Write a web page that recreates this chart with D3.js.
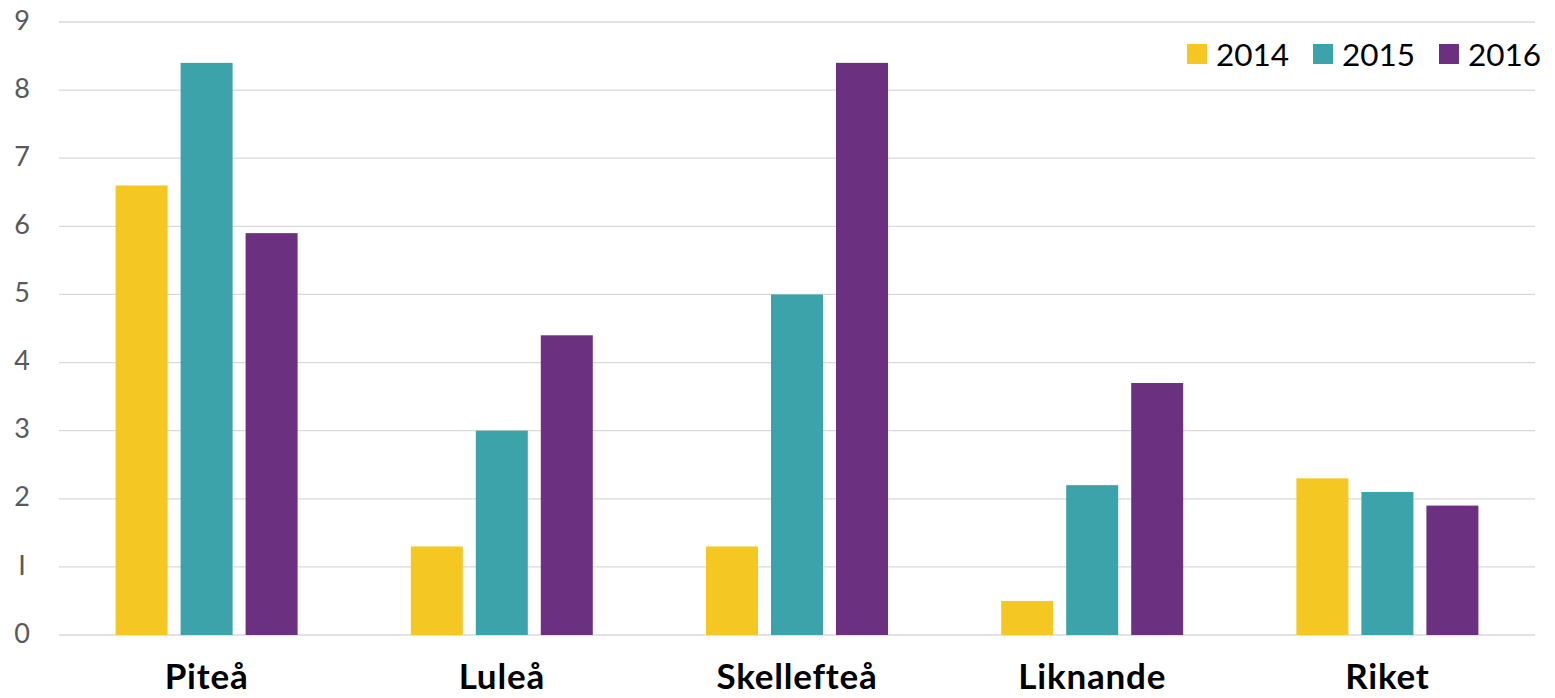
<!DOCTYPE html>
<html><head><meta charset="utf-8">
<script src="https://cdn.jsdelivr.net/npm/d3@7"></script>
<style>body{margin:0;background:#fff;}svg{display:block;}</style>
</head><body>
<script>
const categories = ["Piteå","Luleå","Skellefteå","Liknande","Riket"];
const seriesNames = ["2014","2015","2016"];
const values2014 = [6.6,1.3,1.3,0.5,2.3];
const values2015 = [8.4,3.0,5.0,2.2,2.1];
const values2016 = [5.9,4.4,8.4,3.7,1.9];
const yTicks = [0,1,2,3,4,5,6,7,8,9];
const colors = ["#F5C723","#3BA3A9","#6B3180"];

const W=1555,H=698;
const svg=d3.select("body").append("svg").attr("width",W).attr("height",H);
const x=d3.scaleBand().domain(categories).range([59,1535]).padding(0);
const xs=d3.scaleBand().domain(seriesNames).range([-91,91]).paddingInner(0.2).paddingOuter(0);
const y=d3.scaleLinear().domain([0,9]).range([635,22]);

// gridlines
svg.append("g").selectAll("line").data(yTicks).join("line")
  .attr("x1",59).attr("x2",1535).attr("y1",d=>y(d)).attr("y2",d=>y(d))
  .attr("stroke","#d9d9d9").attr("stroke-width",1.3);

// y labels
svg.append("g").selectAll("text").data(yTicks).join("text")
  .attr("x",22).attr("y",d=>y(d)-2).attr("dy","0.36em").attr("text-anchor","middle")
  .attr("font-family","Lato, sans-serif").attr("font-size",27).attr("fill","#595959")
  .text(d=>d===1?"I":d);

const series=[values2014,values2015,values2016];
const g=svg.append("g");
series.forEach((vals,si)=>{
  g.selectAll(null).data(vals).join("rect")
   .attr("x",(d,i)=>x(categories[i])+x.bandwidth()/2+xs(seriesNames[si]))
   .attr("width",xs.bandwidth())
   .attr("y",d=>y(d)).attr("height",d=>y(0)-y(d))
   .attr("fill",colors[si]);
});

// category labels
svg.append("g").selectAll("text").data(categories).join("text")
  .attr("x",d=>x(d)+x.bandwidth()/2).attr("y",689).attr("text-anchor","middle")
  .attr("font-family","Lato, sans-serif").attr("font-weight","bold").attr("font-size",35)
  .attr("letter-spacing",0.8).attr("fill","#000")
  .text(d=>d);

// legend
const legX=[1187,1313,1439];
const lg=svg.append("g");
seriesNames.forEach((s,i)=>{
  lg.append("rect").attr("x",legX[i]).attr("y",44).attr("width",20).attr("height",20).attr("fill",colors[i]);
  lg.append("text").attr("x",legX[i]+29).attr("y",66).attr("font-family","Lato, sans-serif")
    .attr("font-size",31.5).attr("fill","#000").text(s);
});
</script>
</body></html>
